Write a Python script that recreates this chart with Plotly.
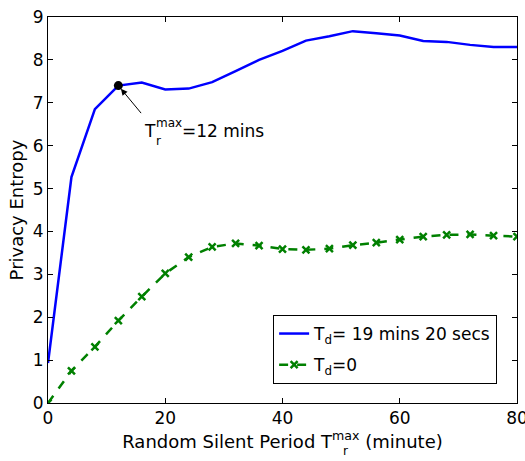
import plotly.graph_objects as go

x_vals = [0, 4, 8, 12, 16, 20, 24, 28, 32, 36, 40, 44, 48, 52, 56, 60, 64, 68, 72, 76, 80]
entropy_td = [0.93, 5.27, 6.85, 7.40, 7.47, 7.31, 7.33, 7.48, 7.74, 8.00, 8.21, 8.45, 8.55, 8.67, 8.62, 8.57, 8.44, 8.42, 8.35, 8.30, 8.30]
entropy_td0 = [0.0, 0.75, 1.31, 1.92, 2.48, 3.02, 3.40, 3.64, 3.72, 3.67, 3.59, 3.57, 3.60, 3.68, 3.74, 3.81, 3.88, 3.92, 3.93, 3.90, 3.88]
highlight_x = [12]
highlight_y = [7.40]
x_ticks = [0, 20, 40, 60, 80]
y_ticks = [0, 1, 2, 3, 4, 5, 6, 7, 8, 9]

FONT = "DejaVu Sans, Arial, sans-serif"

W, H = 525, 461
ML, MR, MT, MB = 48, 8, 17, 58
pw, ph = W - ML - MR, H - MT - MB

fig = go.Figure()
fig.add_trace(go.Scatter(
    x=x_vals, y=entropy_td, mode="lines",
    line=dict(color="#0000ff", width=2.5),
    name="T<sub>d</sub>= 19 mins 20 secs", legendgroup="a",
))
fig.add_trace(go.Scatter(
    x=x_vals, y=entropy_td0, mode="lines+markers",
    line=dict(color="#008000", width=2.5, dash="dash"),
    marker=dict(symbol="x-thin", size=7, line=dict(color="#008000", width=2.5)),
    name="T<sub>d</sub>=0", legendgroup="b",
))
fig.add_trace(go.Scatter(
    x=highlight_x, y=highlight_y, mode="markers",
    marker=dict(color="black", size=9),
    showlegend=False,
))

# arrow pointing at the highlighted point
fig.add_annotation(
    x=highlight_x[0], y=highlight_y[0], xref="x", yref="y",
    ax=24, ay=29, text="", showarrow=True, arrowhead=2, arrowsize=1.3,
    arrowwidth=1, arrowcolor="black", standoff=4,
)

axis_common = dict(
    showgrid=False, zeroline=False, showline=True, linecolor="black", linewidth=1,
    mirror="ticks", ticks="inside", ticklen=5, tickcolor="black",
    tickfont=dict(family=FONT, size=17, color="black"),
    automargin=False, ticklabeloverflow="allow",
)
fig.update_xaxes(range=[0, 80], tickvals=x_ticks,
                 title=dict(text="Random Silent Period T<sup>max</sup> (minute)",
                            font=dict(family=FONT, size=18, color="black"), standoff=4),
                 **axis_common)
fig.update_yaxes(range=[0, 9], tickvals=y_ticks,
                 title=dict(text="Privacy Entropy", font=dict(family=FONT, size=18, color="black"), standoff=4),
                 **axis_common)

fig.update_layout(
    width=W, height=H,
    margin=dict(l=ML, r=MR, t=MT, b=MB),
    plot_bgcolor="white", paper_bgcolor="white",
    font=dict(family=FONT, size=17, color="black"),
    showlegend=True,
    legend=dict(x=0.48, y=0.228, xanchor="left", yanchor="top",
                bordercolor="black", borderwidth=1, bgcolor="white",
                font=dict(family=FONT, size=17, color="black"),
                tracegroupgap=6),
)

def px(xp):
    return (xp - ML) / pw

def py(yp):
    return (H - MB - yp) / ph

def txt(s, x, y, size, xanchor="left"):
    fig.add_annotation(x=px(x), y=py(y), xref="paper", yref="paper", text=s,
                       showarrow=False, xanchor=xanchor, yanchor="middle",
                       font=dict(family=FONT, size=size, color="black"))

# "T_r^max=12 mins" label near the marker (stacked sub/superscript)
txt("T", 142, 131, 17)
txt("max", 154, 123, 12)
txt("r", 154, 141, 12)
txt("=12 mins", 180, 131, 17)

# subscript r under the x-axis title's superscript
txt("r", 341, 451, 12)

fig.write_html("out.html", config={"displayModeBar": False},
               post_script="document.body.style.margin='0';document.body.style.padding='0';")
